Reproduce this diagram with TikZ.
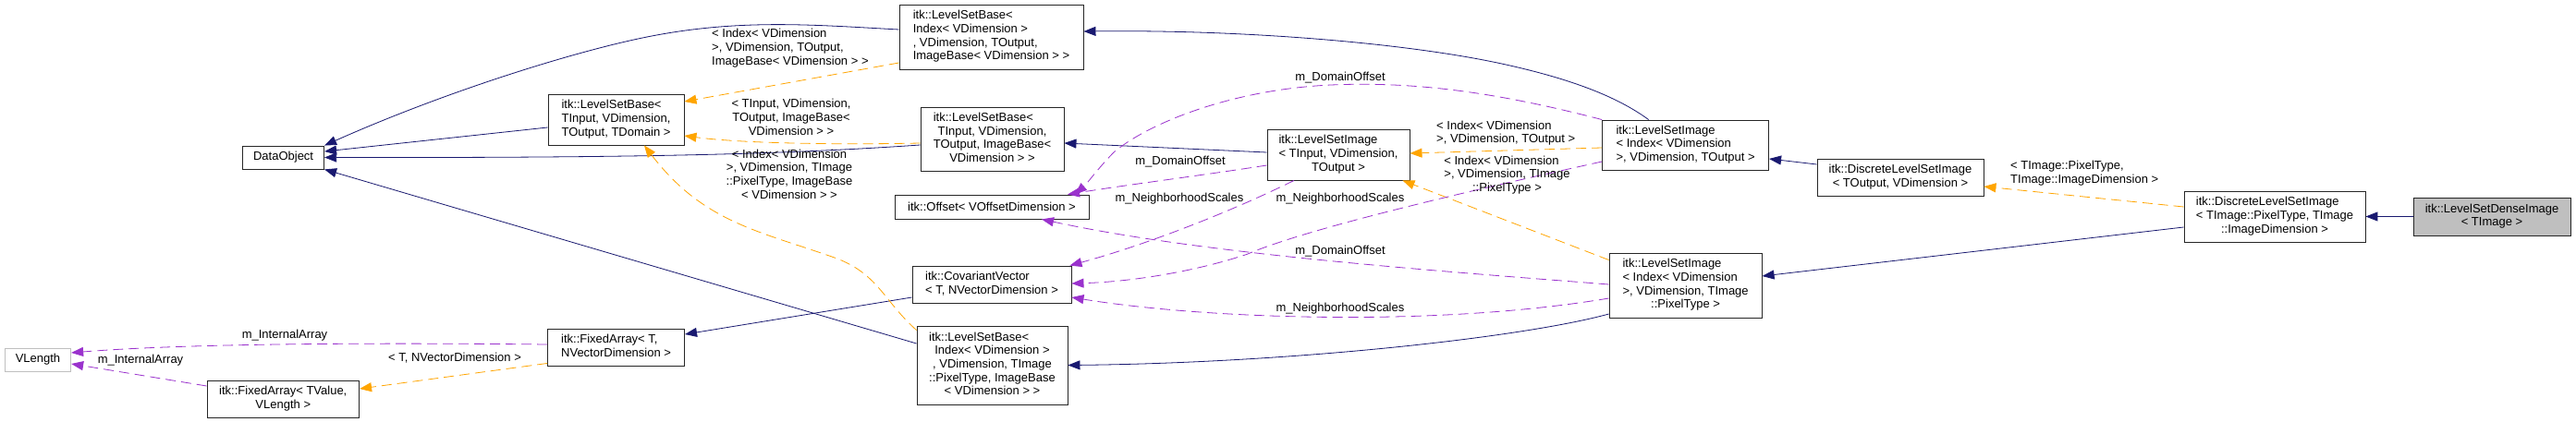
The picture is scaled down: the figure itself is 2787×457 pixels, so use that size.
\documentclass[tikz,border=0pt]{standalone}
\usepackage{fontspec}
\setmainfont{Liberation Sans}
\usetikzlibrary{arrows.meta}
\definecolor{navyc}{HTML}{191970}
\definecolor{orchc}{HTML}{9A32CD}
\definecolor{orngc}{HTML}{FFA500}
\definecolor{grayc}{HTML}{BFBFBF}
\newcommand\ctr[1]{\multicolumn{1}{@{}c@{}}{#1}}
\newcommand\bx[1]{\begin{tabular}{@{}l@{}}#1\end{tabular}}
\begin{document}
\begin{tikzpicture}[x=1pt,y=-1pt,
  font=\fontsize{13}{14.7}\selectfont,
  box/.style={draw=black!85, line width=0.9pt, fill=white, inner sep=0pt},
  lbl/.style={inner sep=0pt, align=center},
  tipx/.style={-{Triangle[length=13pt,width=10pt]}},
  inh/.style={draw=navyc, line width=0.8pt, tipx},
  tmpl/.style={draw=orngc, line width=0.8pt, dash pattern=on 11pt off 6pt, tipx},
  usage/.style={draw=orchc, line width=0.8pt, dash pattern=on 11pt off 6pt, tipx}]
\useasboundingbox (0,0) rectangle (2787,457);
\fill[white] (0,0) rectangle (2787,457);

% nodes
\node[box, minimum width=88pt, minimum height=25pt] (dataobj) at (306.6,170.5) {DataObject};
\node[box, draw=grayc, minimum width=71.4pt, minimum height=25pt] (vlength) at (41,389.5) {VLength};
\node[box, minimum width=164.6pt, minimum height=40pt] (fatv) at (306.3,432) {\bx{itk::FixedArray< TValue,\\\ctr{VLength >}}};
\node[box, minimum width=148pt, minimum height=40pt] (fat) at (666.6,376) {\bx{itk::FixedArray< T,\\\ctr{NVectorDimension >}}};
\node[box, minimum width=147pt, minimum height=55pt] (lsbtd) at (666.5,129.5) {\bx{itk::LevelSetBase<\\\ctr{TInput, VDimension,}\\\ctr{TOutput, TDomain >}}};
\node[box, minimum width=199pt, minimum height=70pt] (lsbio) at (1072.5,40) {\bx{itk::LevelSetBase<\\Index< VDimension >\\, VDimension, TOutput,\\ImageBase< VDimension > >}};
\node[box, minimum width=155pt, minimum height=69pt] (lsbti) at (1073.5,150.5) {\bx{itk::LevelSetBase<\\\ctr{TInput, VDimension,}\\\ctr{TOutput, ImageBase<}\\\ctr{VDimension > >}}};
\node[box, minimum width=210pt, minimum height=26pt] (offset) at (1073,224) {itk::Offset< VOffsetDimension >};
\node[box, minimum width=172pt, minimum height=40pt] (covvec) at (1073,308) {\bx{itk::CovariantVector\\< T, NVectorDimension >}};
\node[box, minimum width=163pt, minimum height=85pt] (lsbip) at (1073.5,395.5) {\bx{itk::LevelSetBase<\\\ctr{Index< VDimension >}\\\ctr{, VDimension, TImage}\\\ctr{::PixelType, ImageBase}\\\ctr{< VDimension > >}}};
\node[box, minimum width=154pt, minimum height=55pt] (lsiti) at (1448,167.5) {\bx{itk::LevelSetImage\\< TInput, VDimension,\\\ctr{TOutput >}}};
\node[box, minimum width=180pt, minimum height=54pt] (lsiio) at (1823.6,157) {\bx{itk::LevelSetImage\\< Index< VDimension\\\ctr{>, VDimension, TOutput >}}};
\node[box, minimum width=180pt, minimum height=40pt] (dlsto) at (2056,192) {\bx{\ctr{itk::DiscreteLevelSetImage}\\\ctr{< TOutput, VDimension >}}};
\node[box, minimum width=165pt, minimum height=70pt] (lsiip) at (1823.6,309) {\bx{itk::LevelSetImage\\< Index< VDimension\\\ctr{>, VDimension, TImage}\\\ctr{::PixelType >}}};
\node[box, minimum width=196pt, minimum height=55pt] (dlsti) at (2461,234.5) {\bx{itk::DiscreteLevelSetImage\\< TImage::PixelType, TImage\\\ctr{::ImageDimension >}}};
\node[box, fill=grayc, minimum width=170pt, minimum height=41pt] (dense) at (2696,234.5) {\bx{\ctr{itk::LevelSetDenseImage}\\\ctr{< TImage >}}};

% inheritance (navy)
\draw[inh] (dense.west) -- (dlsti.east);
\draw[inh] ([yshift=-11.5pt]dlsti.west) -- ([yshift=10pt]lsiip.east);
\draw[inh] ([yshift=14pt]dlsto.west) -- ([yshift=-15pt]lsiio.east);
\draw[inh] ([xshift=-40pt]lsiio.north) .. controls (1750,105) and (1700,85) .. (1620,68)
  .. controls (1520,47) and (1350,32) .. ([yshift=6pt]lsbio.east);
\draw[inh] ([yshift=2.5pt]lsiti.west) -- ([yshift=-4.5pt]lsbti.east);
\draw[inh] ([yshift=-31pt]lsiip.west) .. controls (1650,365) and (1400,393) .. (lsbip.east);
\draw[inh] ([yshift=8pt]lsbio.west) .. controls (880,27) and (800,20) .. (700,40)
  .. controls (620,56) and (480,100) .. (dataobj.north east);
\draw[inh] ([yshift=-8.5pt]lsbtd.west) -- ([yshift=6.5pt]dataobj.east);
\draw[inh] ([yshift=-6.5pt]lsbti.west) .. controls (850,167) and (700,171) .. (dataobj.east);
\draw[inh] ([yshift=23.5pt]lsbip.west) -- (dataobj.south east);
\draw[inh] ([yshift=-14pt]covvec.west) -- ([yshift=14pt]fat.east);

% template instantiation (orange)
\draw[tmpl] ([yshift=10.5pt]dlsti.west) -- ([yshift=-10pt]dlsto.east);
\draw[tmpl] ([yshift=-8pt]lsiip.north west) -- ([xshift=-8pt]lsiti.south east);
\draw[tmpl] ([yshift=-3pt]lsiio.west) -- ([yshift=1.5pt]lsiti.east);
\draw[tmpl] ([yshift=-4.5pt]lsbti.west) .. controls (900,157) and (800,155) .. ([yshift=-17.5pt]lsbtd.east);
\draw[tmpl] ([yshift=-28pt]lsbio.west) -- ([yshift=19.5pt]lsbtd.east);
\draw[tmpl] ([yshift=-5pt]lsbip.north west) .. controls (955,325) and (950,295) .. (900,278)
  .. controls (820,250) and (760,240) .. ([xshift=30.5pt]lsbtd.south);
\draw[tmpl] ([yshift=3pt]fat.south west) -- ([yshift=11pt]fatv.east);

% usage (purple)
\draw[usage] (lsiio.north west) .. controls (1620,100) and (1530,88) .. (1440,92)
  .. controls (1330,97) and (1240,135) .. (1205,165)
  .. controls (1190,180) and (1175,200) .. ([xshift=90pt]offset.north);
\draw[usage] ([yshift=-11.5pt]lsiti.west) .. controls (1300,190) and (1220,200) .. ([xshift=82pt]offset.north);
\draw[usage] ([xshift=-48pt]lsiti.south) .. controls (1330,230) and (1240,265) .. ([xshift=-2pt]covvec.north east);
\draw[usage] ([yshift=-18pt]lsiio.west) .. controls (1620,200) and (1420,245) .. (1350,275)
  .. controls (1300,292) and (1230,305) .. ([yshift=1pt]covvec.east);
\draw[usage] ([yshift=1pt]lsiip.west) .. controls (1550,293) and (1300,275) .. ([xshift=54pt]offset.south);
\draw[usage] ([yshift=-14pt]lsiip.west) .. controls (1550,355) and (1300,345) .. ([yshift=-14pt]covvec.east);
\draw[usage] ([yshift=3pt]fat.west) .. controls (400,371) and (200,372) .. ([yshift=7.5pt]vlength.east);
\draw[usage] ([yshift=14pt]fatv.west) -- ([yshift=-4.5pt]vlength.east);

% edge labels
\node[lbl, align=left, anchor=west] (lA) at (770,52) {< Index< VDimension\\>, VDimension, TOutput,\\ImageBase< VDimension > >};
\node[lbl] (lB) at (856,127) {< TInput, VDimension,\\TOutput, ImageBase<\\VDimension > >};
\node[lbl] (lC) at (854,188.5) {< Index< VDimension\\>, VDimension, TImage\\::PixelType, ImageBase\\< VDimension > >};
\node[lbl] (lD) at (1450,84) {m\_DomainOffset};
\node[lbl] (lE) at (1277,175) {m\_DomainOffset};
\node[lbl] (lF) at (1276,215) {m\_NeighborhoodScales};
\node[lbl] (lG) at (1450,215) {m\_NeighborhoodScales};
\node[lbl, align=left, anchor=west] (lH) at (1554,144) {< Index< VDimension\\>, VDimension, TOutput >};
\node[lbl] (lI) at (1630.5,190) {\bx{< Index< VDimension\\>, VDimension, TImage\\\ctr{::PixelType >}}};
\node[lbl] (lJ) at (1450,272) {m\_DomainOffset};
\node[lbl] (lK) at (1450,334) {m\_NeighborhoodScales};
\node[lbl, align=left, anchor=west] (lL) at (2175,187.5) {< TImage::PixelType,\\TImage::ImageDimension >};
\node[lbl] (lM) at (308,363) {m\_InternalArray};
\node[lbl] (lN) at (152,390) {m\_InternalArray};
\node[lbl] (lO) at (492,388) {< T, NVectorDimension >};
\end{tikzpicture}
\end{document}
